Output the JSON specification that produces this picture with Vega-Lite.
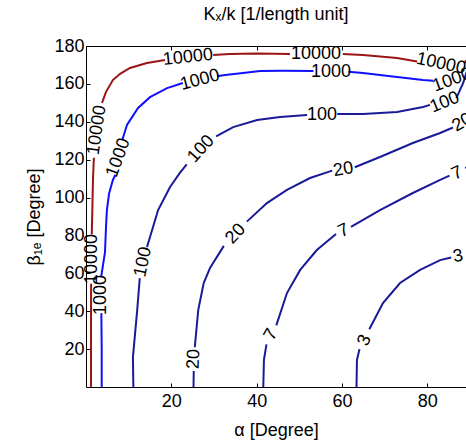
{
  "$schema": "https://vega.github.io/schema/vega-lite/v6.json",
  "width": 380,
  "height": 341,
  "autosize": "none",
  "padding": {"left": 86, "top": 46, "right": 0, "bottom": 55},
  "background": "white",
  "title": {"text": "Kₓ/k [1/length unit]", "font": "Liberation Sans", "fontSize": 18, "fontWeight": "normal", "color": "black", "anchor": "middle", "offset": 13},
  "config": {
    "view": {"stroke": null},
    "axis": {"grid": false, "domainColor": "black", "tickColor": "black", "labelColor": "black", "titleColor": "black", "labelFont": "Liberation Sans", "titleFont": "Liberation Sans", "labelFontSize": 18, "titleFontSize": 18, "titleFontWeight": "normal", "tickSize": -4, "domainWidth": 1, "tickWidth": 1}
  },
  "datasets": {
    "lines": [
      {"l": "10000", "s": "r1", "i": 1, "a": 1.17, "b": 0},
      {"l": "10000", "s": "r1", "i": 2, "a": 1.17, "b": 30},
      {"l": "10000", "s": "r1", "i": 3, "a": 1.2, "b": 54.5},
      {"l": "10000", "s": "r2", "i": 1, "a": 1.35, "b": 80.5},
      {"l": "10000", "s": "r2", "i": 2, "a": 1.5, "b": 95},
      {"l": "10000", "s": "r2", "i": 3, "a": 1.64, "b": 110},
      {"l": "10000", "s": "r2", "i": 4, "a": 1.85, "b": 121},
      {"l": "10000", "s": "r3", "i": 1, "a": 3.75, "b": 150},
      {"l": "10000", "s": "r3", "i": 2, "a": 4.7, "b": 155.8},
      {"l": "10000", "s": "r3", "i": 3, "a": 6.3, "b": 162},
      {"l": "10000", "s": "r3", "i": 4, "a": 8, "b": 165.3},
      {"l": "10000", "s": "r3", "i": 5, "a": 10.3, "b": 168.4},
      {"l": "10000", "s": "r3", "i": 6, "a": 14.3, "b": 171},
      {"l": "10000", "s": "r3", "i": 7, "a": 18.5, "b": 172.6},
      {"l": "10000", "s": "r4", "i": 1, "a": 29.8, "b": 175.3},
      {"l": "10000", "s": "r4", "i": 2, "a": 33.7, "b": 175.8},
      {"l": "10000", "s": "r4", "i": 3, "a": 40, "b": 176},
      {"l": "10000", "s": "r4", "i": 4, "a": 47.8, "b": 175.8},
      {"l": "10000", "s": "r5", "i": 1, "a": 60.2, "b": 175.8},
      {"l": "10000", "s": "r5", "i": 2, "a": 64.9, "b": 175.2},
      {"l": "10000", "s": "r5", "i": 3, "a": 72.9, "b": 173.7},
      {"l": "10000", "s": "r5", "i": 4, "a": 77.6, "b": 171.8},
      {"l": "10000", "s": "r6", "i": 1, "a": 88.6, "b": 170.8},
      {"l": "10000", "s": "r6", "i": 2, "a": 89.2, "b": 172.5},
      {"l": "1000", "s": "k1", "i": 1, "a": 3.68, "b": 0},
      {"l": "1000", "s": "k1", "i": 2, "a": 3.68, "b": 20},
      {"l": "1000", "s": "k1", "i": 3, "a": 3.6, "b": 39},
      {"l": "1000", "s": "k2", "i": 1, "a": 3.55, "b": 58},
      {"l": "1000", "s": "k2", "i": 2, "a": 4.1, "b": 66},
      {"l": "1000", "s": "k2", "i": 3, "a": 4.45, "b": 71},
      {"l": "1000", "s": "k2", "i": 4, "a": 4.7, "b": 85},
      {"l": "1000", "s": "k2", "i": 5, "a": 4.9, "b": 93.4},
      {"l": "1000", "s": "k2", "i": 6, "a": 5.4, "b": 102},
      {"l": "1000", "s": "k2", "i": 7, "a": 6.3, "b": 109.3},
      {"l": "1000", "s": "k2", "i": 8, "a": 6.9, "b": 112},
      {"l": "1000", "s": "k3", "i": 1, "a": 8.5, "b": 130.4},
      {"l": "1000", "s": "k3", "i": 2, "a": 9.6, "b": 138.3},
      {"l": "1000", "s": "k3", "i": 3, "a": 12.2, "b": 147.3},
      {"l": "1000", "s": "k3", "i": 4, "a": 15, "b": 153},
      {"l": "1000", "s": "k3", "i": 5, "a": 19, "b": 157.8},
      {"l": "1000", "s": "k3", "i": 6, "a": 22.7, "b": 160.5},
      {"l": "1000", "s": "k4", "i": 1, "a": 30.7, "b": 164},
      {"l": "1000", "s": "k4", "i": 2, "a": 32.6, "b": 164.7},
      {"l": "1000", "s": "k4", "i": 3, "a": 36.8, "b": 165.7},
      {"l": "1000", "s": "k4", "i": 4, "a": 40.8, "b": 166.8},
      {"l": "1000", "s": "k4", "i": 5, "a": 46, "b": 166.9},
      {"l": "1000", "s": "k4", "i": 6, "a": 53.3, "b": 166.8},
      {"l": "1000", "s": "k5", "i": 1, "a": 61.5, "b": 166.4},
      {"l": "1000", "s": "k5", "i": 2, "a": 64.9, "b": 165.7},
      {"l": "1000", "s": "k5", "i": 3, "a": 72.9, "b": 163.6},
      {"l": "1000", "s": "k5", "i": 4, "a": 79, "b": 162},
      {"l": "1000", "s": "k5", "i": 5, "a": 81.4, "b": 161.6},
      {"l": "100", "s": "h1", "i": 1, "a": 11.1, "b": 0},
      {"l": "100", "s": "h1", "i": 2, "a": 11.0, "b": 15.8},
      {"l": "100", "s": "h1", "i": 3, "a": 12, "b": 40.6},
      {"l": "100", "s": "h1", "i": 4, "a": 12.6, "b": 57.5},
      {"l": "100", "s": "h2", "i": 1, "a": 14.3, "b": 73.9},
      {"l": "100", "s": "h2", "i": 2, "a": 16.9, "b": 93.4},
      {"l": "100", "s": "h2", "i": 3, "a": 19.7, "b": 105.6},
      {"l": "100", "s": "h2", "i": 4, "a": 22, "b": 113},
      {"l": "100", "s": "h2", "i": 5, "a": 23.6, "b": 117.5},
      {"l": "100", "s": "h3", "i": 1, "a": 30.5, "b": 132.3},
      {"l": "100", "s": "h3", "i": 2, "a": 34.5, "b": 137.2},
      {"l": "100", "s": "h3", "i": 3, "a": 40.1, "b": 140.9},
      {"l": "100", "s": "h3", "i": 4, "a": 45.5, "b": 142.5},
      {"l": "100", "s": "h3", "i": 5, "a": 51.8, "b": 143.6},
      {"l": "100", "s": "h4", "i": 1, "a": 58.9, "b": 144.1},
      {"l": "100", "s": "h4", "i": 2, "a": 64.9, "b": 144.1},
      {"l": "100", "s": "h4", "i": 3, "a": 72.9, "b": 145.2},
      {"l": "100", "s": "h4", "i": 4, "a": 79, "b": 147.8},
      {"l": "100", "s": "h4", "i": 5, "a": 80.6, "b": 148.9},
      {"l": "100", "s": "h5", "i": 1, "a": 86.8, "b": 152.5},
      {"l": "100", "s": "h5", "i": 2, "a": 88.4, "b": 160.5},
      {"l": "100", "s": "h5", "i": 3, "a": 89.5, "b": 168.4},
      {"l": "100", "s": "h5", "i": 4, "a": 90, "b": 172},
      {"l": "20", "s": "t1", "i": 1, "a": 25.2, "b": 0},
      {"l": "20", "s": "t1", "i": 2, "a": 25.25, "b": 8.5},
      {"l": "20", "s": "t2", "i": 1, "a": 25.5, "b": 21},
      {"l": "20", "s": "t2", "i": 2, "a": 26.3, "b": 40.6},
      {"l": "20", "s": "t2", "i": 3, "a": 27.6, "b": 55},
      {"l": "20", "s": "t2", "i": 4, "a": 29.1, "b": 63},
      {"l": "20", "s": "t2", "i": 5, "a": 32.3, "b": 74.5},
      {"l": "20", "s": "t3", "i": 1, "a": 37.7, "b": 87.3},
      {"l": "20", "s": "t3", "i": 2, "a": 42.4, "b": 97.1},
      {"l": "20", "s": "t3", "i": 3, "a": 47.1, "b": 104},
      {"l": "20", "s": "t3", "i": 4, "a": 52.5, "b": 110.3},
      {"l": "20", "s": "t3", "i": 5, "a": 57.7, "b": 114.2},
      {"l": "20", "s": "t4", "i": 1, "a": 63, "b": 116},
      {"l": "20", "s": "t4", "i": 2, "a": 68.9, "b": 121.4},
      {"l": "20", "s": "t4", "i": 3, "a": 76.6, "b": 128.8},
      {"l": "20", "s": "t4", "i": 4, "a": 83, "b": 134.1},
      {"l": "20", "s": "t4", "i": 5, "a": 86, "b": 137},
      {"l": "7", "s": "s1", "i": 1, "a": 41.55, "b": 0},
      {"l": "7", "s": "s1", "i": 2, "a": 41.7, "b": 14.3},
      {"l": "7", "s": "s1", "i": 3, "a": 42.3, "b": 22.5},
      {"l": "7", "s": "s2", "i": 1, "a": 44.6, "b": 32.5},
      {"l": "7", "s": "s2", "i": 2, "a": 47.1, "b": 49.6},
      {"l": "7", "s": "s2", "i": 3, "a": 50.2, "b": 61.8},
      {"l": "7", "s": "s2", "i": 4, "a": 54.1, "b": 72.3},
      {"l": "7", "s": "s2", "i": 5, "a": 58.6, "b": 80.8},
      {"l": "7", "s": "s3", "i": 1, "a": 62.1, "b": 84.5},
      {"l": "7", "s": "s3", "i": 2, "a": 68.9, "b": 93.4},
      {"l": "7", "s": "s3", "i": 3, "a": 76.6, "b": 102.4},
      {"l": "7", "s": "s3", "i": 4, "a": 83, "b": 109.3},
      {"l": "7", "s": "s3", "i": 5, "a": 85.2, "b": 111.6},
      {"l": "7", "s": "s4", "i": 1, "a": 88.9, "b": 115.5},
      {"l": "7", "s": "s4", "i": 2, "a": 90, "b": 117},
      {"l": "3", "s": "g1", "i": 1, "a": 63.4, "b": 0},
      {"l": "3", "s": "g1", "i": 2, "a": 63.5, "b": 14.3},
      {"l": "3", "s": "g1", "i": 3, "a": 64.1, "b": 20},
      {"l": "3", "s": "g2", "i": 1, "a": 66.4, "b": 30.5},
      {"l": "3", "s": "g2", "i": 2, "a": 69.6, "b": 44.3},
      {"l": "3", "s": "g2", "i": 3, "a": 73.6, "b": 54.9},
      {"l": "3", "s": "g2", "i": 4, "a": 78.3, "b": 61.8},
      {"l": "3", "s": "g2", "i": 5, "a": 83, "b": 67},
      {"l": "3", "s": "g2", "i": 6, "a": 85.6, "b": 68.4}
    ],
    "labels": [
      {"t": "10000", "a": 2.6, "b": 135.6, "r": 278},
      {"t": "10000", "a": 1.3, "b": 67.6, "r": 270},
      {"t": "10000", "a": 23.9, "b": 174, "r": 354},
      {"t": "10000", "a": 53.9, "b": 175.6, "r": 0},
      {"t": "10000", "a": 83.2, "b": 170.6, "r": 12},
      {"t": "1000", "a": 3.5, "b": 48.6, "r": 270},
      {"t": "1000", "a": 7.6, "b": 121, "r": 290},
      {"t": "1000", "a": 26.7, "b": 162, "r": 345},
      {"t": "1000", "a": 57.4, "b": 166.3, "r": 0},
      {"t": "1000", "a": 85.8, "b": 162, "r": 340},
      {"t": "100", "a": 13.4, "b": 66, "r": 282},
      {"t": "100", "a": 27, "b": 125.6, "r": 312},
      {"t": "100", "a": 55.3, "b": 143.8, "r": 0},
      {"t": "100", "a": 84.1, "b": 150.2, "r": 338},
      {"t": "20", "a": 25.3, "b": 14.8, "r": 272},
      {"t": "20", "a": 35.1, "b": 80.8, "r": 313},
      {"t": "20", "a": 60.3, "b": 114.8, "r": 350},
      {"t": "20", "a": 88.2, "b": 139.5, "r": 330},
      {"t": "7", "a": 43.4, "b": 27.6, "r": 300},
      {"t": "7", "a": 60.4, "b": 82.4, "r": 335},
      {"t": "7", "a": 87, "b": 112.8, "r": 335},
      {"t": "3", "a": 65.3, "b": 24.6, "r": 294},
      {"t": "3", "a": 87.2, "b": 68.9, "r": 350}
    ]
  },
  "layer": [
    {
      "data": {"name": "lines"},
      "mark": {"type": "line", "strokeWidth": 2, "clip": true},
      "encoding": {
        "x": {"field": "a", "type": "quantitative", "scale": {"domain": [0, 89.06], "nice": false, "zero": false},
              "axis": {"orient": "bottom", "values": [20, 40, 60, 80], "title": "α [Degree]", "labelPadding": 9, "titlePadding": 11}},
        "y": {"field": "b", "type": "quantitative", "scale": {"domain": [0, 180], "nice": false},
              "axis": {"orient": "left", "values": [20, 40, 60, 80, 100, 120, 140, 160, 180], "title": "β₁ₑ [Degree]", "labelPadding": 6, "titlePadding": 10}},
        "color": {"field": "l", "type": "nominal", "legend": null,
                  "scale": {"domain": ["10000", "1000", "100", "20", "7", "3"], "range": ["#9a1414", "#1010ff", "#1a1a98", "#1a1a98", "#1a1a98", "#1a1a98"]}},
        "detail": {"field": "s", "type": "nominal"},
        "order": {"field": "i", "type": "quantitative"}
      }
    },
    {
      "data": {"name": "labels"},
      "mark": {"type": "text", "font": "Liberation Sans", "fontSize": 18, "color": "black", "align": "center", "baseline": "middle"},
      "encoding": {
        "x": {"field": "a", "type": "quantitative", "scale": {"domain": [0, 89.06], "nice": false, "zero": false},
              "axis": {"orient": "top", "values": [20, 40, 60, 80], "labels": false, "title": null}},
        "y": {"field": "b", "type": "quantitative", "scale": {"domain": [0, 180], "nice": false},
              "axis": {"orient": "left", "values": [20, 40, 60, 80, 100, 120, 140, 160, 180], "title": "β₁ₑ [Degree]", "labelPadding": 6, "titlePadding": 10}},
        "text": {"field": "t", "type": "nominal"},
        "angle": {"field": "r", "type": "quantitative", "scale": null}
      }
    }
  ],
  "resolve": {"axis": {"x": "independent"}}
}
